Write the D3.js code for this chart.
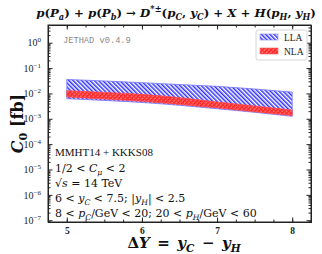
<!DOCTYPE html>
<html>
<head>
    <meta charset="utf-8">
    <title>C0 vs Delta Y</title>
    <script src="https://cdn.jsdelivr.net/npm/d3@7"></script>
    <style>
    body { margin: 0; background: #fff; }
    svg { display: block; font-family: "DejaVu Serif", "Liberation Serif", serif; }
    .axis path, .axis line { stroke: #222; }
    .axis path { stroke-width: 1; }
    </style>
</head>
<body>
<script>
// values
var dY      = [5, 5.5, 6, 6.5, 7, 7.5, 8];
var llaHigh = [0.0357, 0.031, 0.0265, 0.0225, 0.019, 0.015, 0.0113];
var llaLow  = [0.0062, 0.0053, 0.0044, 0.0034, 0.0025, 0.0018, 0.00125];
var nlaHigh = [0.0128, 0.011, 0.0092, 0.0068, 0.0046, 0.0032, 0.0022];
var nlaLow  = [0.0073, 0.006, 0.0049, 0.0037, 0.0027, 0.0019, 0.00135];

var xTicks = [5, 6, 7, 8];
var yExps  = [0, -1, -2, -3, -4, -5, -6, -7];
var legendLabels = ["LLA", "NLA"];

(function() {
var width = 322, height = 254;
var pLeft = 48, pRight = 311, pTop = 25, pBottom = 222;

var svg = d3.select("body").append("svg")
    .attr("width", width).attr("height", height);

var x = d3.scaleLinear().domain([4.75, 8.25]).range([pLeft, pRight]);
var y = d3.scaleLog().domain([8.5e-8, 5]).range([pBottom, pTop]);

// hatch patterns
var defs = svg.append("defs");
var pb = defs.append("pattern").attr("id", "hatchBlue")
    .attr("patternUnits", "userSpaceOnUse").attr("width", 3).attr("height", 3)
    .attr("patternTransform", "rotate(-45)");
pb.append("rect").attr("width", 3).attr("height", 3).attr("fill", "#fff");
pb.append("rect").attr("width", 1.5).attr("height", 3).attr("fill", "#3030ff");

var pr = defs.append("pattern").attr("id", "hatchRed")
    .attr("patternUnits", "userSpaceOnUse").attr("width", 3).attr("height", 3)
    .attr("patternTransform", "rotate(45)");
pr.append("rect").attr("width", 3).attr("height", 3).attr("fill", "#ff7a7a");
pr.append("rect").attr("width", 1.5).attr("height", 3).attr("fill", "#ff1a1a");
pr.append("rect").attr("width", 3).attr("height", 1).attr("fill", "#ff3030");

// helper for sub/superscripts
function rich(sel, parts, fs) {
    var shift = 0;
    parts.forEach(function(p) {
        var s = p[0], m = p[1] || "";
        var t = sel.append("tspan").text(s);
        var target = m.indexOf("sub") >= 0 ? fs * 0.26 : (m.indexOf("sup") >= 0 ? -fs * 0.42 : 0);
        if (target - shift !== 0) t.attr("dy", target - shift);
        shift = target;
        if (m.indexOf("sub") >= 0 || m.indexOf("sup") >= 0) t.attr("font-size", fs * 0.7);
        if (m.indexOf("i") >= 0) t.attr("font-style", "italic");
    });
}

// bands
var band = function(lo, hi) {
    return d3.area()
        .x(function(d, i) { return x(dY[i]); })
        .y0(function(d, i) { return y(lo[i]); })
        .y1(function(d, i) { return y(hi[i]); })
        .curve(d3.curveMonotoneX)(dY);
};
svg.append("path").attr("d", band(llaLow, llaHigh))
    .attr("fill", "url(#hatchBlue)").attr("stroke", "#7575ff").attr("stroke-width", 0.8);
svg.append("path").attr("d", band(nlaLow, nlaHigh))
    .attr("fill", "url(#hatchRed)").attr("stroke", "#ff4a4a").attr("stroke-width", 0.8);

// axes, ticks pointing inward on all four sides
var xMinor = d3.range(4.75, 8.26, 0.25);
var yMinor = [];
d3.range(-8, 1).forEach(function(e) {
    d3.range(2, 10).forEach(function(k) {
        var v = k * Math.pow(10, e);
        if (v > 8.5e-8 && v < 5) yMinor.push(v);
    });
});
var yMajor = yExps.map(function(e) { return Math.pow(10, e); });

svg.append("g").attr("class", "axis").attr("transform", "translate(0," + pBottom + ")")
    .call(d3.axisBottom(x).tickValues(xMinor).tickSize(-2.5).tickFormat(""));
var gx = svg.append("g").attr("class", "axis").attr("transform", "translate(0," + pBottom + ")")
    .call(d3.axisBottom(x).tickValues(xTicks).tickSize(-4.5).tickPadding(5)
        .tickFormat(d3.format("d")));
gx.selectAll("text").attr("font-size", 9.5).attr("font-weight", "bold")
    .attr("font-family", "Liberation Serif").attr("fill", "#222");
svg.append("g").attr("class", "axis").attr("transform", "translate(0," + pTop + ")")
    .call(d3.axisTop(x).tickValues(xMinor).tickSize(-2.5).tickFormat(""));
svg.append("g").attr("class", "axis").attr("transform", "translate(0," + pTop + ")")
    .call(d3.axisTop(x).tickValues(xTicks).tickSize(-4.5).tickFormat(""));

svg.append("g").attr("class", "axis").attr("transform", "translate(" + pLeft + ",0)")
    .call(d3.axisLeft(y).tickValues(yMinor).tickSize(-2.5).tickFormat(""));
var gy = svg.append("g").attr("class", "axis").attr("transform", "translate(" + pLeft + ",0)")
    .call(d3.axisLeft(y).tickValues(yMajor).tickSize(-4.5).tickFormat(""));
gy.selectAll(".tick").append("text")
    .attr("x", -7).attr("dy", "0.32em").attr("text-anchor", "end")
    .attr("fill", "#222").attr("font-size", 10).attr("font-family", "Liberation Serif")
    .each(function(d) {
        var e = Math.round(Math.log10(d));
        var sel = d3.select(this);
        sel.append("tspan").text("10");
        sel.append("tspan").attr("dy", -4).attr("font-size", 7)
            .text(e < 0 ? "\u2212" + (-e) : String(e));
    });
svg.append("g").attr("class", "axis").attr("transform", "translate(" + pRight + ",0)")
    .call(d3.axisRight(y).tickValues(yMinor).tickSize(-2.5).tickFormat(""));
svg.append("g").attr("class", "axis").attr("transform", "translate(" + pRight + ",0)")
    .call(d3.axisRight(y).tickValues(yMajor).tickSize(-4.5).tickFormat(""));

// frame
svg.append("rect").attr("x", pLeft).attr("y", pTop)
    .attr("width", pRight - pLeft).attr("height", pBottom - pTop)
    .attr("fill", "none").attr("stroke", "#222").attr("stroke-width", 1);

// title
var title = svg.append("text").attr("x", 176).attr("y", 17)
    .attr("text-anchor", "middle").attr("font-size", 11.8).attr("fill", "#111")
    .attr("font-weight", "bold");
rich(title, [["p", "i"], ["("], ["P", "i"], ["a", "i sub"], [") + "], ["p", "i"], ["("], ["P", "i"],
    ["b", "i sub"], [") \u2192 "], ["D", "i"], ["*\u00b1", "sup"], ["("], ["p", "i"], ["C", "i sub"],
    [", "], ["y", "i"], ["C", "i sub"], [") + "], ["X", "i"], [" + "], ["H", "i"], ["("], ["p", "i"],
    ["H", "i sub"], [", "], ["y", "i"], ["H", "i sub"], [")"]], 11.8);

// axis titles
var xl = svg.append("text").attr("x", 184).attr("y", 248).attr("text-anchor", "middle")
    .attr("font-size", 15).attr("font-weight", "bold").attr("fill", "#111");
rich(xl, [["\u0394"], ["Y", "i"], ["\u2002=\u2002"], ["y", "i"], ["C", "i sub"], ["\u2002\u2212\u2002"], ["y", "i"], ["H", "i sub"]], 15);

var yl = svg.append("text").attr("transform", "translate(23," + ((pTop + pBottom) / 2) + ") rotate(-90)")
    .attr("text-anchor", "middle").attr("font-size", 16).attr("font-weight", "bold").attr("fill", "#111");
rich(yl, [["C", "i"], ["0", "sub"], [" [fb]"]], 16);

// JETHAD tag
svg.append("text").attr("x", 63).attr("y", 43)
    .attr("font-family", "Liberation Mono, DejaVu Sans Mono, monospace")
    .attr("font-size", 8.7).attr("fill", "#8a8a8a").text("JETHAD v0.4.9");

// legend
var lg = svg.append("g").attr("transform", "translate(256,30)");
lg.append("rect").attr("width", 51).attr("height", 30).attr("rx", 2)
    .attr("fill", "#fff").attr("stroke", "#ccc").attr("stroke-width", 0.8);
var fills = ["url(#hatchBlue)", "url(#hatchRed)"];
legendLabels.forEach(function(l, i) {
    lg.append("rect").attr("x", 4).attr("y", 4 + i * 14).attr("width", 18).attr("height", 6)
        .attr("fill", fills[i]).attr("stroke", i ? "#ff6060" : "#8080ff").attr("stroke-width", 0.6);
    lg.append("text").attr("x", 28).attr("y", 10.5 + i * 14).attr("font-size", 9.5)
        .attr("font-family", "Liberation Serif").attr("fill", "#222").text(l);
});

// kinematic info
var info = svg.append("g").attr("font-size", 11).attr("fill", "#111");
var lines = [
    [["MMHT14 + KKKS08"]],
    [["1/2 < "], ["C", "i"], ["\u03bc", "i sub"], [" < 2"]],
    [["\u221a"], ["s", "i"], [" = 14 TeV"]],
    [["6 < "], ["y", "i"], ["C", "i sub"], [" < 7.5;  |"], ["y", "i"], ["H", "i sub"], ["| < 2.5"]],
    [["8 < "], ["p", "i"], ["C", "i sub"], ["/GeV < 20;  20 < "], ["p", "i"], ["H", "i sub"], ["/GeV < 60"]]
];
var lineY = [156, 172, 187, 202, 217];
lines.forEach(function(parts, i) {
    var t = info.append("text").attr("x", 55).attr("y", lineY[i]);
    if (i === 0) t.attr("font-family", "Liberation Serif");
    rich(t, parts, i === 0 ? 10 : 11);
});
})();
</script>
</body>
</html>
